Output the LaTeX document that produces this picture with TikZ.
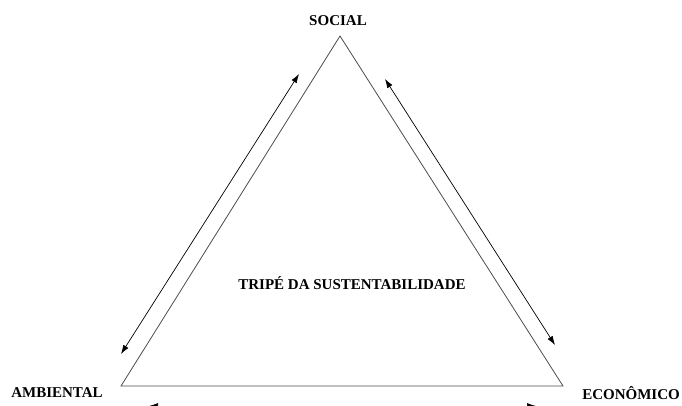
\documentclass[tikz,border=0pt]{standalone}
\usepackage{fontspec}
\setmainfont{Liberation Serif}
\usetikzlibrary{arrows.meta}
\begin{document}
\begin{tikzpicture}[x=1pt,y=-1pt,
  side/.style={draw=black!70,line width=0.8pt},
  link/.style={draw=black,line width=0.7pt,{Latex[length=9pt,width=6pt]}-{Latex[length=9pt,width=6pt]}},
  label/.style={font=\bfseries\fontsize{15}{17}\selectfont,inner sep=0pt}]
  \useasboundingbox (0,0) rectangle (682,405);
  % corners of the triangle
  \coordinate (top) at (340,36);
  \coordinate (bl) at (121,386);
  \coordinate (br) at (563,386);
  \draw[side] (top) -- (br) -- (bl) -- cycle;
  % labels
  \node[label] (soc) at (338,21) {SOCIAL};
  \node[label] (amb) at (57,393) {AMBIENTAL};
  \node[label] (eco) at (631,393) {ECONÔMICO};
  \node[label] (tri) at (352,283) {TRIPÉ DA SUSTENTABILIDADE};
  % double-headed arrows along the sides
  \coordinate (l1) at (121,354);
  \coordinate (l2) at (299,74);
  \coordinate (r1) at (385,79);
  \coordinate (r2) at (555,345);
  \coordinate (b1) at (149,406);
  \coordinate (b2) at (536,406);
  \draw[link] (l1) -- (l2);
  \draw[link] (r1) -- (r2);
  \draw[link] (b1) -- (b2);
\end{tikzpicture}
\end{document}
